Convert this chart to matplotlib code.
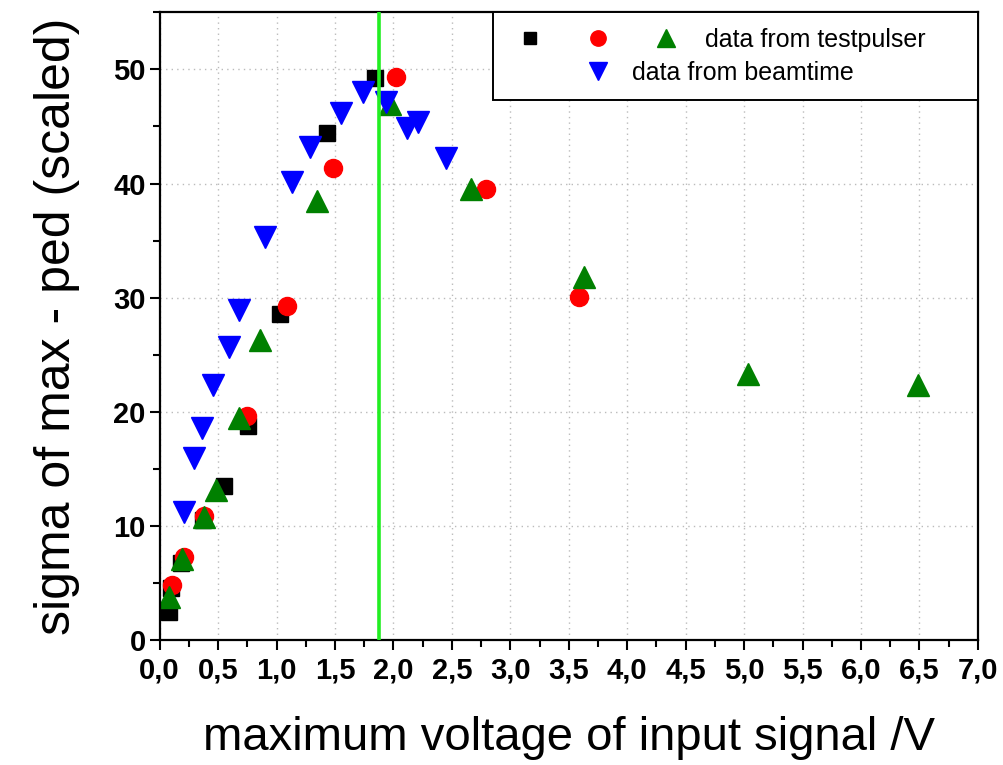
import numpy as np
import matplotlib
matplotlib.use("Agg")
import matplotlib.pyplot as plt
from matplotlib.ticker import MultipleLocator, FuncFormatter
from matplotlib.legend_handler import HandlerTuple
from matplotlib.transforms import ScaledTranslation

# testpulser data (three sets)
sq_x = [0.08, 0.10, 0.18, 0.37, 0.55, 0.76, 1.03, 1.43, 1.84]
sq_y = [2.5, 4.6, 6.8, 10.5, 13.5, 18.8, 28.6, 44.4, 49.2]

ci_x = [0.11, 0.21, 0.38, 0.75, 1.09, 1.48, 2.02, 2.79, 3.59]
ci_y = [4.8, 7.3, 10.9, 19.6, 29.3, 41.4, 49.3, 39.5, 30.1]

tr_x = [0.08, 0.19, 0.38, 0.48, 0.68, 0.86, 1.35, 1.97, 2.66, 3.63, 5.03, 6.49]
tr_y = [3.8, 7.1, 10.8, 13.2, 19.5, 26.3, 38.5, 47.0, 39.5, 31.8, 23.3, 22.4]

# beamtime data
bt_x = [0.21, 0.29, 0.36, 0.46, 0.59, 0.68, 0.90, 1.13, 1.29, 1.55, 1.74, 1.94, 2.12, 2.21, 2.45]
bt_y = [11.2, 16.0, 18.6, 22.4, 25.7, 28.9, 35.3, 40.1, 43.2, 46.2, 48.0, 47.1, 44.9, 45.4, 42.2]

v_line = 1.88

plt.rcParams.update({"font.family": "Liberation Sans", "axes.linewidth": 1.6})

fig = plt.figure(figsize=(10.04, 7.65), dpi=100)
ax = fig.add_axes([0.159, 0.163, 0.815, 0.821])

p1, = ax.plot(sq_x, sq_y, "s", color="black", ms=11, ls="none")
p2, = ax.plot(ci_x, ci_y, "o", color="#ff0000", ms=13, ls="none")
p3, = ax.plot(tr_x, tr_y, "^", color="#008000", ms=16, ls="none")
p4, = ax.plot(bt_x, bt_y, "v", color="#0000ff", ms=16, ls="none")
ax.axvline(v_line, color="#22ee22", lw=2.6, zorder=5)

ax.set_xlim(0, 7)
ax.set_ylim(0, 55)
ax.xaxis.set_major_locator(MultipleLocator(0.5))
ax.xaxis.set_minor_locator(MultipleLocator(0.25))
ax.yaxis.set_major_locator(MultipleLocator(10))
ax.yaxis.set_minor_locator(MultipleLocator(5))
ax.xaxis.set_major_formatter(FuncFormatter(lambda v, p: f"{v:.1f}".replace(".", ",")))
ax.tick_params(which="major", direction="out", length=7, width=1.5, labelsize=21)
ax.tick_params(which="minor", direction="out", length=5, width=1.5)
ax.tick_params(axis="x", which="major", pad=5)
ax.tick_params(axis="y", which="major", pad=3)
ax.tick_params(top=False, right=False)
for lab in ax.get_xticklabels() + ax.get_yticklabels():
    lab.set_fontweight("bold")
ax.grid(True, which="major", ls=(0, (1, 3)), color="#bbbbbb", lw=1)
ax.set_axisbelow(True)

ax.set_xlabel("maximum voltage of input signal /V", fontsize=34, labelpad=22)
ax.set_ylabel("sigma of max - ped (scaled)", fontsize=36, labelpad=24)

leg = ax.legend([(p1, p2, p3), p4], ["data from testpulser", "data from beamtime"],
                handler_map={tuple: HandlerTuple(ndivide=None, pad=0.96)},
                loc="upper left", bbox_to_anchor=(0.407, 0, 0.593, 1.0), mode="expand",
                borderaxespad=0, fontsize=18, handlelength=7.2,
                handletextpad=0.68, fancybox=False, framealpha=1, edgecolor="black",
                borderpad=0.62, labelspacing=0.36, markerscale=0.85)
leg.get_frame().set_linewidth(1.4)
t2 = leg.get_texts()[1]
t2.set_transform(t2.get_transform() + ScaledTranslation(-0.73, 0, fig.dpi_scale_trans))

fig.savefig("out.png", dpi=100)
